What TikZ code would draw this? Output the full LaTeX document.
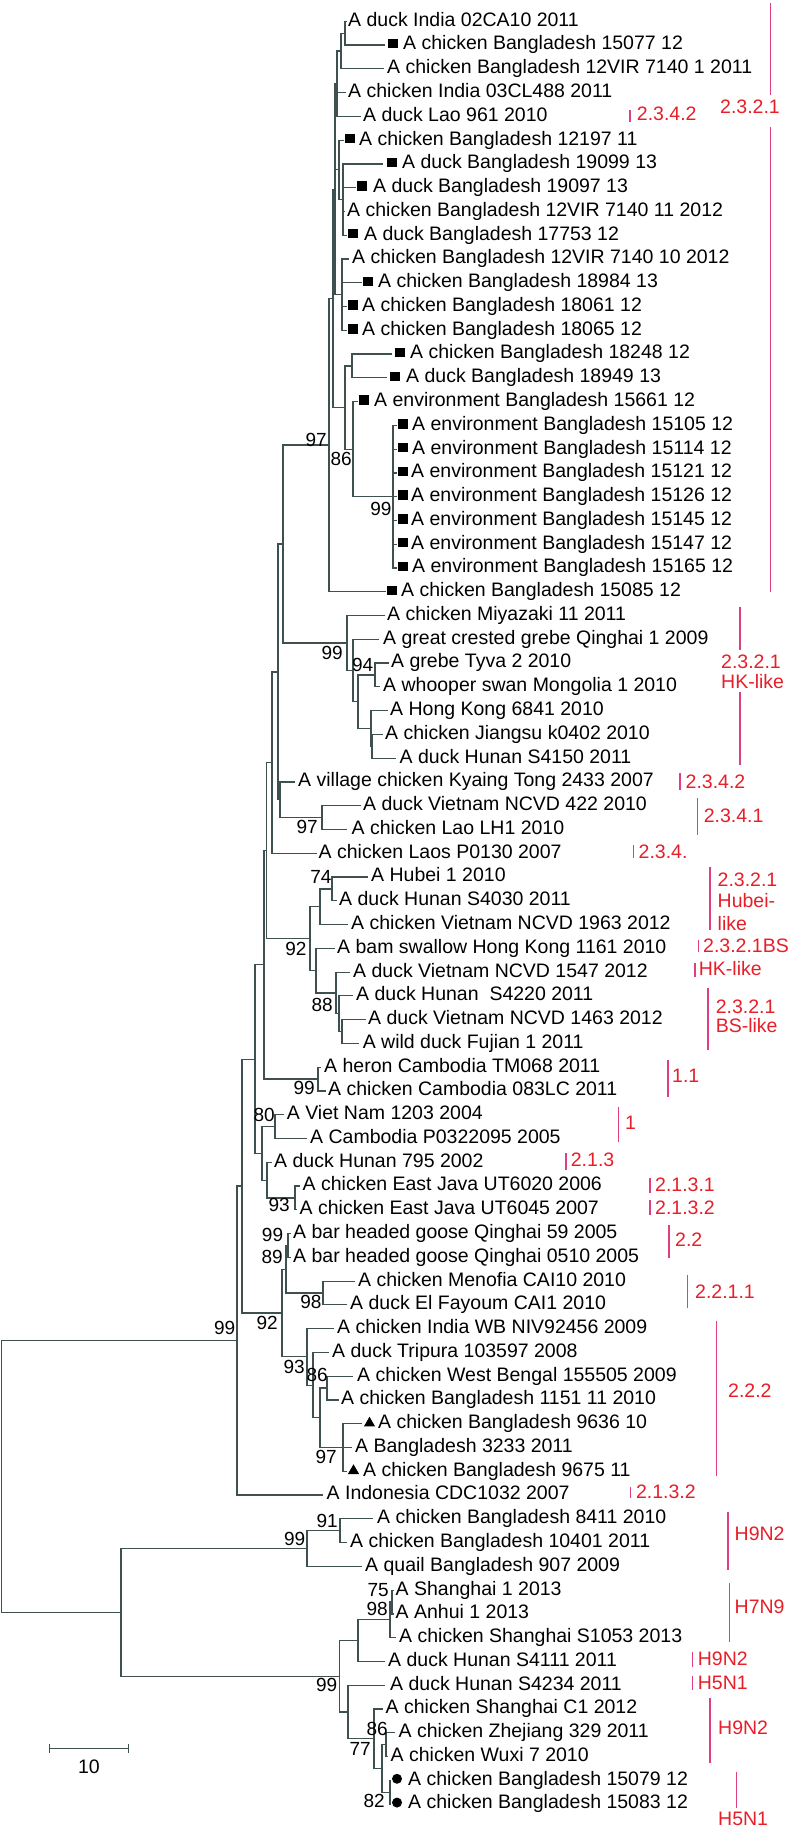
\documentclass[tikz,border=0pt]{standalone}
\usepackage{fontspec}
\setmainfont{Liberation Sans}
\usetikzlibrary{shapes.geometric,calc}
\pgfmathdeclarefunction{leafy}{1}{\pgfmathparse{21.3+23.77*(#1-1)}}
\definecolor{treecol}{RGB}{62,80,80}
\definecolor{barpink}{RGB}{222,62,130}
\definecolor{labred}{RGB}{232,30,40}
\newcommand\lff{\fontsize{19.5}{22}\selectfont}
\newcommand\bsff{\fontsize{19}{22}\selectfont}
\newcommand\mkleaf[4]{\coordinate (l#1) at (#2,{leafy(#1)});\node[lf] (t#1) at (#3,{leafy(#1)}) {#4};}
\newcommand\mknode[4]{\path let \p1=(#3), \p2=(#4) in coordinate (#1) at (#2pt,{(\y1+\y2)/2});}
\newcommand\mkedges[2]{\foreach \ch in {#2}{\draw[br] (#1) |- (\ch);}}
\newcommand\mksq[2]{\node[sqm] (m#1) at (#2,{leafy(#1)-1.5}) {};}
\newcommand\mktri[2]{\node[trm] (m#1) at (#2,{leafy(#1)-0.5}) {};}
\newcommand\mkdot[2]{\node[dotm] (m#1) at (#2,{leafy(#1)-1.5}) {};}
\begin{document}
\begin{tikzpicture}[x=1pt,y=-1pt,
  br/.style={draw=treecol,line width=1.2pt},
  lf/.style={anchor=base west,inner sep=0pt,yshift=-4.9pt,font=\lff},
  bs/.style={anchor=base east,inner sep=0pt,yshift=-6.8pt,font=\bsff},
  cl/.style={anchor=base west,inner sep=0pt,yshift=-6.9pt,font=\lff,text=labred},
  bar/.style={draw=barpink,line width=1.5pt},
  sqm/.style={rectangle,fill=black,inner sep=0pt,minimum size=9.5pt},
  trm/.style={regular polygon,regular polygon sides=3,fill=black,inner sep=0pt,minimum size=13pt},
  dotm/.style={circle,fill=black,inner sep=0pt,minimum size=10pt}]
\fill[white] (0,0) rectangle (792,1833);
\useasboundingbox (0,0) rectangle (792,1833);
% ---------------- leaves
\mkleaf{1}{347}{348}{A duck India 02CA10 2011}
\mkleaf{2}{385}{403}{A chicken Bangladesh 15077 12}\mksq{2}{393}
\mkleaf{3}{384}{387}{A chicken Bangladesh 12VIR 7140 1 2011}
\mkleaf{4}{346}{348}{A chicken India 03CL488 2011}
\mkleaf{5}{361}{363}{A duck Lao 961 2010}
\mkleaf{6}{344}{359}{A chicken Bangladesh 12197 11}\mksq{6}{350}
\mkleaf{7}{383}{402}{A duck Bangladesh 19099 13}\mksq{7}{392}
\mkleaf{8}{356}{373}{A duck Bangladesh 19097 13}\mksq{8}{362}
\mkleaf{9}{345}{347}{A chicken Bangladesh 12VIR 7140 11 2012}
\mkleaf{10}{347}{364}{A duck Bangladesh 17753 12}\mksq{10}{353}
\mkleaf{11}{349}{352}{A chicken Bangladesh 12VIR 7140 10 2012}
\mkleaf{12}{362}{378}{A chicken Bangladesh 18984 13}\mksq{12}{368}
\mkleaf{13}{347}{362}{A chicken Bangladesh 18061 12}\mksq{13}{353}
\mkleaf{14}{347}{362}{A chicken Bangladesh 18065 12}\mksq{14}{353}
\mkleaf{15}{392}{410}{A chicken Bangladesh 18248 12}\mksq{15}{400}
\mkleaf{16}{387}{406}{A duck Bangladesh 18949 13}\mksq{16}{395}
\mkleaf{17}{358}{374}{A environment Bangladesh 15661 12}\mksq{17}{364}
\mkleaf{18}{397}{412}{A environment Bangladesh 15105 12}\mksq{18}{403}
\mkleaf{19}{397}{412}{A environment Bangladesh 15114 12}\mksq{19}{403}
\mkleaf{20}{397}{411}{A environment Bangladesh 15121 12}\mksq{20}{403}
\mkleaf{21}{397}{411}{A environment Bangladesh 15126 12}\mksq{21}{403}
\mkleaf{22}{397}{411}{A environment Bangladesh 15145 12}\mksq{22}{403}
\mkleaf{23}{397}{411}{A environment Bangladesh 15147 12}\mksq{23}{403}
\mkleaf{24}{397}{412}{A environment Bangladesh 15165 12}\mksq{24}{403}
\mkleaf{25}{386}{401}{A chicken Bangladesh 15085 12}\mksq{25}{392}
\mkleaf{26}{385}{387}{A chicken Miyazaki 11 2011}
\mkleaf{27}{379}{383}{A great crested grebe Qinghai 1 2009}
\mkleaf{28}{389}{391}{A grebe Tyva 2 2010}
\mkleaf{29}{380}{383}{A whooper swan Mongolia 1 2010}
\mkleaf{30}{388}{390}{A Hong Kong 6841 2010}
\mkleaf{31}{383}{385}{A chicken Jiangsu k0402 2010}
\mkleaf{32}{396}{399.5}{A duck Hunan S4150 2011}
\mkleaf{33}{295}{298}{A village chicken Kyaing Tong 2433 2007}
\mkleaf{34}{361}{363}{A duck Vietnam NCVD 422 2010}
\mkleaf{35}{347}{351.5}{A chicken Lao LH1 2010}
\mkleaf{36}{317}{318.5}{A chicken Laos P0130 2007}
\mkleaf{37}{368}{371}{A Hubei 1 2010}
\mkleaf{38}{337}{339}{A duck Hunan S4030 2011}
\mkleaf{39}{348}{351}{A chicken Vietnam NCVD 1963 2012}
\mkleaf{40}{335}{337}{A bam swallow Hong Kong 1161 2010}
\mkleaf{41}{350}{353}{A duck Vietnam NCVD 1547 2012}
\mkleaf{42}{353}{356}{A duck Hunan\ \ S4220 2011}
\mkleaf{43}{366}{368}{A duck Vietnam NCVD 1463 2012}
\mkleaf{44}{359}{362.6}{A wild duck Fujian 1 2011}
\mkleaf{45}{321}{324}{A heron Cambodia TM068 2011}
\mkleaf{46}{326}{328}{A chicken Cambodia 083LC 2011}
\mkleaf{47}{284}{286.7}{A Viet Nam 1203 2004}
\mkleaf{48}{307}{310}{A Cambodia P0322095 2005}
\mkleaf{49}{272}{274}{A duck Hunan 795 2002}
\mkleaf{50}{300}{302.5}{A chicken East Java UT6020 2006}
\mkleaf{51}{297}{299.5}{A chicken East Java UT6045 2007}
\mkleaf{52}{291}{293}{A bar headed goose Qinghai 59 2005}
\mkleaf{53}{291}{293}{A bar headed goose Qinghai 0510 2005}
\mkleaf{54}{355}{358}{A chicken Menofia CAI10 2010}
\mkleaf{55}{347}{350}{A duck El Fayoum CAI1 2010}
\mkleaf{56}{334}{337}{A chicken India WB NIV92456 2009}
\mkleaf{57}{329}{332}{A duck Tripura 103597 2008}
\mkleaf{58}{353}{357}{A chicken West Bengal 155505 2009}
\mkleaf{59}{339}{341}{A chicken Bangladesh 1151 11 2010}
\mkleaf{60}{362}{378}{A chicken Bangladesh 9636 10}\mktri{60}{369.5}
\mkleaf{61}{352}{355}{A Bangladesh 3233 2011}
\mkleaf{62}{347}{363}{A chicken Bangladesh 9675 11}\mktri{62}{353.5}
\mkleaf{63}{323}{326.5}{A Indonesia CDC1032 2007}
\mkleaf{64}{373}{377}{A chicken Bangladesh 8411 2010}
\mkleaf{65}{347}{350}{A chicken Bangladesh 10401 2011}
\mkleaf{66}{362}{365}{A quail Bangladesh 907 2009}
\mkleaf{67}{394}{395.5}{A Shanghai 1 2013}
\mkleaf{68}{394}{395.5}{A Anhui 1 2013}
\mkleaf{69}{396}{399}{A chicken Shanghai S1053 2013}
\mkleaf{70}{385}{388}{A duck Hunan S4111 2011}
\mkleaf{71}{385}{390}{A duck Hunan S4234 2011}
\mkleaf{72}{383}{385.5}{A chicken Shanghai C1 2012}
\mkleaf{73}{395}{398.5}{A chicken Zhejiang 329 2011}
\mkleaf{74}{388}{390.5}{A chicken Wuxi 7 2010}
\mkleaf{75}{391}{408}{A chicken Bangladesh 15079 12}\mkdot{75}{397}
\mkleaf{76}{391}{408}{A chicken Bangladesh 15083 12}\mkdot{76}{397}
% ---------------- internal nodes
\mknode{Na}{345}{l1}{l2}
\mknode{Nb}{341}{Na}{l3}
\mknode{G1}{337}{Nb}{l5}
\mknode{G2}{343}{l7}{l10}
\mknode{G1b}{339}{l6}{G2}
\mknode{G3}{342}{l11}{l14}
\mknode{X}{335}{G1}{G3}
\mknode{P15}{352}{l15}{l16}
\mknode{C99e}{393}{l18}{l24}
\mknode{N353}{353}{l17}{C99e}
\mknode{P}{345}{P15}{N353}
\mknode{U}{333}{X}{P}
\mknode{C97}{329}{U}{l25}
\mknode{nhk1}{372}{l31}{l32}
\mknode{nhk2}{371}{l30}{nhk1}
\mknode{n94}{375}{l28}{l29}
\mknode{n358b}{358}{n94}{nhk2}
\mknode{n353b}{353}{l27}{n358b}
\mknode{n347}{347}{l26}{n353b}
\mknode{R}{283}{C97}{n347}
\mknode{n97p}{322}{l34}{l35}
\mknode{T}{280}{l33}{n97p}
\mknode{S}{278}{R}{T}
\mknode{V}{272}{S}{l36}
\mknode{n74}{332}{l37}{l38}
\mknode{n320h}{320}{n74}{l39}
\mknode{n342}{342}{l43}{l44}
\mknode{n339}{339}{l42}{n342}
\mknode{n336}{336}{l41}{n339}
\mknode{n316}{316}{l40}{n336}
\mknode{n310}{310}{n320h}{n316}
\mknode{BB}{266.5}{V}{n310}
\mknode{n99c}{318}{l45}{l46}
\mknode{CC}{264}{BB}{n99c}
\mknode{n80}{275}{l47}{l48}
\mknode{n93j}{295}{l50}{l51}
\mknode{Yn}{267}{l49}{n93j}
\mknode{W}{262}{n80}{Yn}
\mknode{Z}{255}{CC}{W}
\mknode{ngeese}{288}{l52}{l53}
\mknode{negypt}{323}{l54}{l55}
\mknode{EE}{286}{ngeese}{negypt}
\mknode{n327}{327}{l58}{l59}
\mknode{n343}{343}{l60}{l62}
\mknode{n320}{320}{n327}{n343}
\mknode{n313}{313}{l57}{n320}
\mknode{n307}{307}{l56}{n313}
\mknode{DD}{282}{EE}{n307}
\mknode{AB}{242}{Z}{DD}
\mknode{AC}{237}{AB}{l63}
\mknode{n91}{340}{l64}{l65}
\mknode{n99a}{307}{n91}{l66}
\mknode{n75}{392}{l67}{l68}
\mknode{n98}{390}{n75}{l69}
\mknode{n358}{358}{n98}{l70}
\mknode{nA}{386}{l73}{l74}
\mknode{n82}{390}{l75}{l76}
\mknode{n86}{382}{nA}{n82}
\mknode{n77}{374}{l72}{n86}
\mknode{n348}{348}{l71}{n77}
\mknode{n340}{339.5}{n358}{n348}
\mknode{OG}{121}{n99a}{n340}
\mknode{root}{1.5}{AC}{OG}
% ---------------- branches
\mkedges{Na}{l1,l2}
\mkedges{Nb}{Na,l3}
\mkedges{G1}{Nb,l4,l5}
\mkedges{G2}{l7,l8,l9,l10}
\mkedges{G1b}{l6,G2}
\mkedges{G3}{l11,l12,l13,l14}
\mkedges{X}{G1,G1b,G3}
\mkedges{P15}{l15,l16}
\mkedges{C99e}{l18,l19,l20,l21,l22,l23,l24}
\mkedges{N353}{l17,C99e}
\mkedges{P}{P15,N353}
\mkedges{U}{X,P}
\mkedges{C97}{U,l25}
\mkedges{nhk1}{l31,l32}
\mkedges{nhk2}{l30,nhk1}
\mkedges{n94}{l28,l29}
\mkedges{n358b}{n94,nhk2}
\mkedges{n353b}{l27,n358b}
\mkedges{n347}{l26,n353b}
\mkedges{R}{C97,n347}
\mkedges{n97p}{l34,l35}
\mkedges{T}{l33,n97p}
\mkedges{S}{R,T}
\mkedges{V}{S,l36}
\mkedges{n74}{l37,l38}
\mkedges{n320h}{n74,l39}
\mkedges{n342}{l43,l44}
\mkedges{n339}{l42,n342}
\mkedges{n336}{l41,n339}
\mkedges{n316}{l40,n336}
\mkedges{n310}{n320h,n316}
\mkedges{BB}{V,n310}
\mkedges{n99c}{l45,l46}
\mkedges{CC}{BB,n99c}
\mkedges{n80}{l47,l48}
\mkedges{n93j}{l50,l51}
\mkedges{Yn}{l49,n93j}
\mkedges{W}{n80,Yn}
\mkedges{Z}{CC,W}
\mkedges{ngeese}{l52,l53}
\mkedges{negypt}{l54,l55}
\mkedges{EE}{ngeese,negypt}
\mkedges{n327}{l58,l59}
\mkedges{n343}{l60,l61,l62}
\mkedges{n320}{n327,n343}
\mkedges{n313}{l57,n320}
\mkedges{n307}{l56,n313}
\mkedges{DD}{EE,n307}
\mkedges{AB}{Z,DD}
\mkedges{AC}{AB,l63}
\mkedges{n91}{l64,l65}
\mkedges{n99a}{n91,l66}
\mkedges{n75}{l67,l68}
\mkedges{n98}{n75,l69}
\mkedges{n358}{n98,l70}
\mkedges{nA}{l73,l74}
\mkedges{n82}{l75,l76}
\mkedges{n86}{nA,n82}
\mkedges{n77}{l72,n86}
\mkedges{n348}{l71,n77}
\mkedges{n340}{n358,n348}
\mkedges{OG}{n99a,n340}
\mkedges{root}{AC,OG}
% ---------------- bootstrap values
\node[bs] (b1) at (327,440) {97};
\node[bs] (b2) at (352,459) {86};
\node[bs] (b3) at (391.7,508.3) {99};
\node[bs] (b4) at (343,653) {99};
\node[bs] (b5) at (373.5,665) {94};
\node[bs] (b6) at (318,826.7) {97};
\node[bs] (b7) at (331.7,876.7) {74};
\node[bs] (b8) at (306.7,948.3) {92};
\node[bs] (b9) at (333,1005) {88};
\node[bs] (b10) at (315,1088) {99};
\node[bs] (b11) at (275,1115) {80};
\node[bs] (b12) at (290,1205) {93};
\node[bs] (b13) at (283.3,1235) {99};
\node[bs] (b14) at (283,1256.7) {89};
\node[bs] (b15) at (321.7,1301.7) {98};
\node[bs] (b16) at (278,1323) {92};
\node[bs] (b17) at (235.5,1327.5) {99};
\node[bs] (b18) at (305,1366.7) {93};
\node[bs] (b19) at (328,1375) {86};
\node[bs] (b20) at (337,1456.7) {97};
\node[bs] (b21) at (338,1521) {91};
\node[bs] (b22) at (305.5,1539) {99};
\node[bs] (b23) at (389,1589.5) {75};
\node[bs] (b24) at (388,1609) {98};
\node[bs] (b25) at (337.5,1684.5) {99};
\node[bs] (b26) at (388,1729) {86};
\node[bs] (b27) at (371,1749) {77};
\node[bs] (b28) at (385,1801) {82};
% ---------------- clade bars and labels
\draw[bar] (770.7,3.3) -- (770.7,95);
\draw[bar] (770.7,126.7) -- (770.7,592);
\node[cl] (c1) at (720,107) {2.3.2.1};
\draw[bar] (630,110) -- (630,122);
\node[cl] (c2) at (636.7,114) {2.3.4.2};
\draw[bar] (740,606.7) -- (740,650);
\draw[bar] (740,691.7) -- (740,765);
\node[cl] (c3) at (721,661.7) {2.3.2.1};
\node[cl] (c4) at (721,681.7) {HK-like};
\draw[bar] (680,773) -- (680,790);
\node[cl] (c5) at (685.5,781.7) {2.3.4.2};
\draw[bar] (697.6,798) -- (697.6,835);
\node[cl] (c6) at (703.6,816) {2.3.4.1};
\draw[bar] (633.6,845) -- (633.6,858);
\node[cl] (c7) at (638.5,851.7) {2.3.4.};
\draw[bar] (710,866.7) -- (710,930);
\node[cl] (c8) at (717.5,879.3) {2.3.2.1};
\node[cl] (c9) at (717.5,900.7) {Hubei-};
\node[cl] (c10) at (717.5,923.3) {like};
\draw[bar] (698.7,940) -- (698.7,951.7);
\node[cl] (c11) at (703,946) {2.3.2.1BS};
\draw[bar] (695,963) -- (695,977);
\node[cl] (c12) at (698.7,969) {HK-like};
\draw[bar] (708,988) -- (708,1050);
\node[cl] (c13) at (715.6,1006.7) {2.3.2.1};
\node[cl] (c14) at (715.6,1026) {BS-like};
\draw[bar] (667.8,1060) -- (667.8,1096.7);
\node[cl] (c15) at (672,1076) {1.1};
\draw[bar] (618.5,1106.7) -- (618.5,1141.7);
\node[cl] (c16) at (625,1123) {1};
\draw[bar] (565.8,1153) -- (565.8,1170);
\node[cl] (c17) at (570.7,1160) {2.1.3};
\draw[bar] (650,1178) -- (650,1193);
\node[cl] (c18) at (655,1185) {2.1.3.1};
\draw[bar] (650,1200) -- (650,1215);
\node[cl] (c19) at (655,1207.7) {2.1.3.2};
\draw[bar] (669,1225) -- (669,1258);
\node[cl] (c20) at (675,1240) {2.2};
\draw[bar] (687.7,1275) -- (687.7,1308);
\node[cl] (c21) at (695,1292) {2.2.1.1};
\draw[bar] (716.4,1320.7) -- (716.4,1476);
\node[cl] (c22) at (728,1390.7) {2.2.2};
\draw[bar] (630.7,1486.7) -- (630.7,1498);
\node[cl] (c23) at (635.8,1491.7) {2.1.3.2};
\draw[bar] (728,1511.7) -- (728,1570);
\node[cl] (c24) at (734.5,1534) {H9N2};
\draw[bar] (729.5,1583) -- (729.5,1641.7);
\node[cl] (c25) at (734.5,1606.7) {H7N9};
\draw[bar] (692.7,1651.7) -- (692.7,1666.7);
\node[cl] (c26) at (697.7,1659) {H9N2};
\draw[bar] (692.7,1676) -- (692.7,1690);
\node[cl] (c27) at (697.7,1682.3) {H5N1};
\draw[bar] (710,1698) -- (710,1763);
\node[cl] (c28) at (718,1727.3) {H9N2};
\draw[bar] (736.5,1771.7) -- (736.5,1808);
\node[cl] (c29) at (718,1819) {H5N1};
% ---------------- scale bar
\coordinate (sb1) at (49.4,1748.3);
\coordinate (sb2) at (128.5,1748.3);
\draw[br] (sb1) -- (sb2);
\draw[br] ([yshift=4.3pt]sb1) -- ([yshift=-4.3pt]sb1);
\draw[br] ([yshift=4.3pt]sb2) -- ([yshift=-4.3pt]sb2);
\node[anchor=base,inner sep=0pt,yshift=-6.9pt,font=\lff] (sbl) at (89,1766.7) {10};
\end{tikzpicture}
\end{document}
